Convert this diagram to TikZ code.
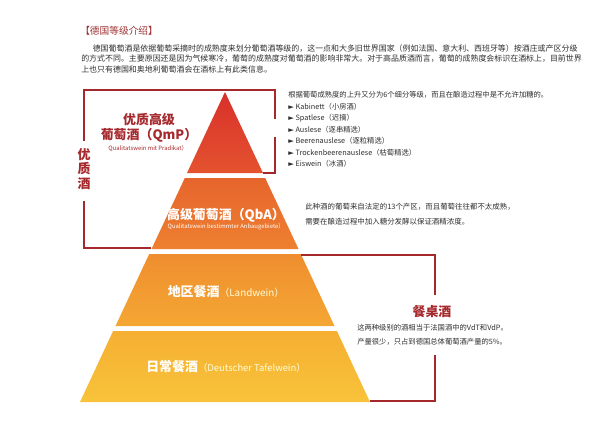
\documentclass[tikz,border=0pt]{standalone}
\usepackage{fontspec}
\setmainfont{Noto Sans CJK SC}
\newfontfamily\symfont{DejaVu Sans}
\usepackage{xcolor}
\usetikzlibrary{positioning}

\definecolor{darkRed}{HTML}{A5282C}
\definecolor{titleRed}{HTML}{9E3234}
\definecolor{textGray}{HTML}{2E2E2E}
\definecolor{qmpTop}{HTML}{D8302A}
\definecolor{qmpBot}{HTML}{E4532F}
\definecolor{qbaTop}{HTML}{E6652D}
\definecolor{qbaBot}{HTML}{EE8030}
\definecolor{lwTop}{HTML}{EF8E2F}
\definecolor{lwBot}{HTML}{F4A734}
\definecolor{dtTop}{HTML}{F5AF32}
\definecolor{dtBot}{HTML}{F8C33A}

\tikzset{
    bracketline/.style={draw=darkRed, line width=0.9pt},
    tierlabel/.style={text=white, font=\fontsize{9.2}{11}\selectfont\bfseries, inner sep=0pt},
    tiersub/.style={text=white, font=\fontsize{4.2}{5}\selectfont, inner sep=0pt},
    desctext/.style={text=textGray, align=left, anchor=north west, inner sep=0pt,
        font=\fontsize{5.2}{8.2}\selectfont},
    redlabel/.style={text=darkRed, font=\fontsize{9.2}{10.6}\selectfont\bfseries,
        align=center, inner sep=0pt}
}

\begin{document}
\begin{tikzpicture}[x=0.025cm, y=-0.025cm]
    \useasboundingbox (0,0) rectangle (600,430);

    % 1. Tiêu đề và đoạn văn
    \node[anchor=west, inner sep=0pt, text=titleRed, font=\fontsize{6.9}{8}\selectfont]
        (title) at (80,31) {【德国等级介绍】};
    \node[desctext, font=\fontsize{5.65}{7.5}\selectfont] (intro) at (81,44)
        {\hspace*{1.45em}德国葡萄酒是依据葡萄采摘时的成熟度来划分葡萄酒等级的，这一点和大多旧世界国家（例如法国、意大利、西班牙等）按酒庄或产区分级\\
         的方式不同。主要原因还是因为气候寒冷，葡萄的成熟度对葡萄酒的影响非常大。对于高品质酒而言，葡萄的成熟度会标识在酒标上，目前世界\\
         上也只有德国和奥地利葡萄酒会在酒标上有此类信息。};

    % 2. Các tầng kim tự tháp
    \shade[top color=qmpTop, bottom color=qmpBot]
        (225,92) -- (263,173) -- (187,173) -- cycle;
    \shade[top color=qbaTop, bottom color=qbaBot]
        (184.8,178) -- (265.2,178) -- (298.5,249) -- (151.5,249) -- cycle;
    \shade[top color=lwTop, bottom color=lwBot]
        (149.2,254) -- (300.8,254) -- (334.5,326) -- (115.5,326) -- cycle;
    \shade[top color=dtTop, bottom color=dtBot]
        (113.1,331) -- (336.9,331) -- (370,402) -- (80,402) -- cycle;

    % 3. Nhãn các tầng
    \node[redlabel] (qmp) at (149,127.5) {优质高级\\葡萄酒（QmP）};
    \node[inner sep=0pt, text=darkRed, font=\fontsize{4.2}{5}\selectfont]
        (qmpsub) at (148,149) {Qualitatswein mit Pradikat）};
    \node[tierlabel] (qba) at (226,215) {高级葡萄酒（QbA）};
    \node[tiersub, below=0.6pt of qba] (qbasub) {Qualitatswein bestimmter Anbaugebiete）};
    \node[tierlabel] (lw) at (226,292)
        {地区餐酒{\mdseries\fontsize{7}{8}\selectfont\color{white!85!yellow}（Landwein）}};
    \node[tierlabel] (dt) at (226,367)
        {日常餐酒{\mdseries\fontsize{6.7}{8}\selectfont\color{white!85!yellow}（Deutscher Tafelwein）}};

    % 4. Ngoặc bên trái: 优质酒
    \node[redlabel, font=\fontsize{9.2}{10.2}\selectfont\bfseries] (yzj) at (84,169) {优\\质\\酒};
    \draw[bracketline] (84,141) -- (84,90) -- (275,90) -- (275,119);
    \draw[bracketline] (275,137) -- (275,173) -- (263,173);
    \draw[bracketline] (84,201) -- (84,248) -- (151,248);

    % 5. Ghi chú bên phải
    \node[desctext] (qmpdesc) at (288,91)
        {根据葡萄成熟度的上升又分为6个细分等级，而且在酿造过程中是不允许加糖的。\\
         {\symfont ►} Kabinett（小房酒）\\
         {\symfont ►} Spatlese（迟摘）\\
         {\symfont ►} Auslese（逐串精选）\\
         {\symfont ►} Beerenauslese（逐粒精选）\\
         {\symfont ►} Trockenbeerenauslese（枯萄精选）\\
         {\symfont ►} Eiswein（冰酒）};
    \node[desctext, font=\fontsize{5.3}{10.3}\selectfont] (qbadesc) at (305,203)
        {此种酒的葡萄来自法定的13个产区，而且葡萄往往都不太成熟，\\
         需要在酿造过程中加入糖分发酵以保证酒精浓度。};

    % 6. Ngoặc dưới: 餐桌酒
    \node[redlabel] (czj) at (432,312) {餐桌酒};
    \node[desctext, font=\fontsize{5.2}{9.6}\selectfont] (czjdesc) at (357,324.5)
        {这两种级别的酒相当于法国酒中的VdT和VdP。\\
         产量很少，只占到德国总体葡萄酒产量的5\%。};
    \draw[bracketline] (301,255) -- (435,255) -- (435,295);
    \draw[bracketline] (435,355) -- (435,401) -- (370,401);
\end{tikzpicture}
\end{document}
